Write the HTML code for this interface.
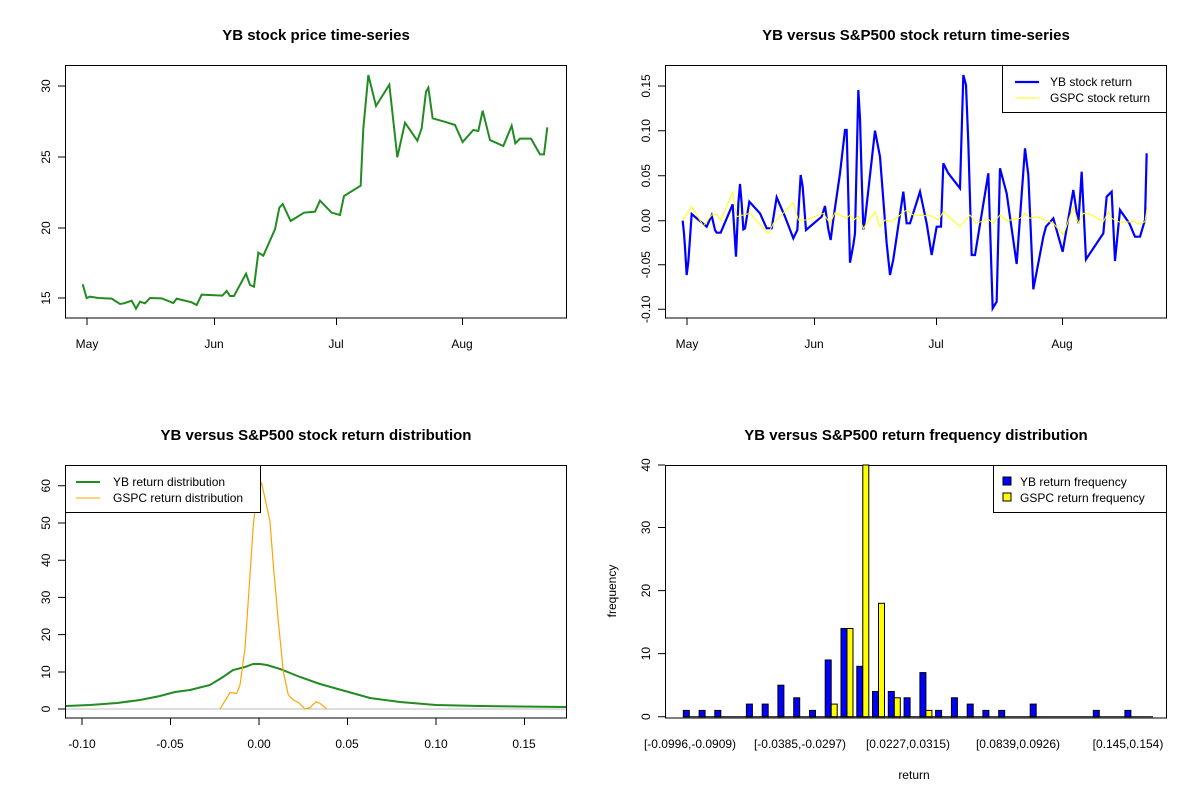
<!DOCTYPE html>
<html><head><meta charset="utf-8"><style>body{margin:0;background:#fff}svg{display:block;font-family:"Liberation Sans",Arial,sans-serif}</style></head><body>
<svg width="1200" height="800" viewBox="0 0 1200 800" xmlns="http://www.w3.org/2000/svg">
<rect width="1200" height="800" fill="#fff"/>
<g font-size="15" font-weight="bold" text-anchor="middle">
<text x="316" y="40">YB stock price time-series</text>
<text x="916" y="40">YB versus S&amp;P500 stock return time-series</text>
<text x="316" y="440">YB versus S&amp;P500 stock return distribution</text>
<text x="916" y="440">YB versus S&amp;P500 return frequency distribution</text>
</g>
<!-- Plot 1 -->
<rect x="65.5" y="65.5" width="501" height="252.5" fill="none" stroke="#000"/>
<g stroke="#000" fill="none"><path d="M87,318v7M214.5,318v7M336.5,318v7M462.5,318v7M65,86h-7M65,157h-7M65,228h-7M65,298h-7"/></g>
<g font-size="12" text-anchor="middle"><text x="87" y="348">May</text><text x="214" y="348">Jun</text><text x="336" y="348">Jul</text><text x="462" y="348">Aug</text>
<text transform="translate(50,86) rotate(-90)">30</text><text transform="translate(50,157) rotate(-90)">25</text><text transform="translate(50,228) rotate(-90)">20</text><text transform="translate(50,298) rotate(-90)">15</text></g>
<g transform="translate(60,60) scale(0.33333)"><polyline fill="none" stroke="#228B22" stroke-width="2" vector-effect="non-scaling-stroke" points="68,673 80,714 90,710 115,714 155,716 180,732 192,730 215,722 228,746 240,725 255,730 270,714 305,715 340,729 350,716 395,727 410,735 425,704 487,707 500,693 510,708 522,708 558,641 570,675 582,680 595,578 610,587 645,508 658,443 668,432 692,483 732,458 765,455 780,422 815,458 840,465 852,408 902,377 910,205 925,45 948,138 988,74 1012,292 1035,188 1072,242 1085,205 1098,95 1105,83 1118,175 1160,187 1185,195 1208,246 1240,210 1255,213 1268,152 1290,240 1330,258 1355,197 1366,250 1380,236 1413,236 1440,283 1452,283 1462,202"/></g>
<!-- Plot 2 -->
<rect x="665.5" y="65.5" width="501" height="252.5" fill="none" stroke="#000"/>
<g stroke="#000" fill="none"><path d="M687,318v7M814.5,318v7M936.5,318v7M1062.5,318v7M665,86h-7M665,130.7h-7M665,175.7h-7M665,220.7h-7M665,264.7h-7M665,309.3h-7"/></g>
<g font-size="12" text-anchor="middle"><text x="687" y="348">May</text><text x="814" y="348">Jun</text><text x="936" y="348">Jul</text><text x="1062" y="348">Aug</text>
<text transform="translate(650,86) rotate(-90)">0.15</text><text transform="translate(650,130.7) rotate(-90)">0.10</text><text transform="translate(650,175.7) rotate(-90)">0.05</text><text transform="translate(650,220.7) rotate(-90)">0.00</text><text transform="translate(650,264.7) rotate(-90)">-0.05</text><text transform="translate(650,309.3) rotate(-90)">-0.10</text></g>
<g transform="translate(660,60) scale(0.33333)">
<polyline fill="none" stroke="#0000FF" stroke-width="2.2" vector-effect="non-scaling-stroke" points="68,482 72,520 75,562 80,645 85,605 90,535 95,462 140,500 155,466 165,510 170,518 182,518 218,433 228,590 235,430 240,372 245,430 250,508 255,505 268,425 300,460 320,505 335,505 350,412 375,470 400,535 412,510 422,345 428,380 438,510 485,470 495,438 505,508 512,540 520,478 540,340 555,210 560,210 570,608 580,555 585,520 595,90 600,175 605,350 610,508 615,480 645,212 660,290 680,550 690,645 700,598 730,395 740,490 750,490 780,395 800,490 815,585 830,500 843,500 850,310 865,340 900,385 910,45 918,75 925,250 935,585 945,585 985,340 998,745 1010,725 1020,325 1040,400 1070,612 1095,265 1105,345 1120,688 1150,530 1158,500 1180,475 1208,575 1240,390 1255,490 1265,335 1278,598 1330,520 1340,410 1355,395 1365,603 1380,450 1408,490 1425,530 1440,530 1455,480 1460,280"/>
<polyline fill="none" stroke="#FFFF00" stroke-width="1" vector-effect="non-scaling-stroke" points="68,482 95,440 130,498 155,465 170,462 182,482 218,395 230,470 270,460 325,520 340,490 400,428 415,480 438,480 490,460 510,490 525,458 560,475 570,465 582,480 595,468 610,505 645,455 660,500 675,480 695,485 740,450 760,465 815,468 835,480 850,455 900,500 930,465 948,490 985,478 1000,490 1020,465 1040,482 1080,475 1095,460 1110,475 1130,470 1180,490 1210,525 1240,440 1255,490 1270,460 1290,462 1330,485 1345,455 1355,475 1380,487 1420,485 1440,493 1455,485 1462,440"/></g>
<rect x="1002.5" y="65.5" width="164" height="47" fill="#fff" stroke="#000"/>
<line x1="1015" y1="82" x2="1039" y2="82" stroke="#0000FF" stroke-width="2.2"/>
<line x1="1015" y1="98" x2="1039" y2="98" stroke="#FFFF00" stroke-width="1"/>
<g font-size="12"><text x="1050" y="86">YB stock return</text><text x="1050" y="102">GSPC stock return</text></g>
<!-- Plot 3 -->
<rect x="65.5" y="465.5" width="501" height="252.5" fill="none" stroke="#000"/>
<g stroke="#000" fill="none"><path d="M82,718v7M170.5,718v7M259,718v7M347.5,718v7M436,718v7M524.5,718v7M65,709h-7M65,672h-7M65,634.6h-7M65,597.4h-7M65,560.2h-7M65,523h-7M65,485.8h-7"/></g>
<g font-size="12" text-anchor="middle"><text x="82" y="748">-0.10</text><text x="170" y="748">-0.05</text><text x="259" y="748">0.00</text><text x="347" y="748">0.05</text><text x="436" y="748">0.10</text><text x="524" y="748">0.15</text>
<text transform="translate(50,709) rotate(-90)">0</text><text transform="translate(50,672) rotate(-90)">10</text><text transform="translate(50,634.6) rotate(-90)">20</text><text transform="translate(50,597.4) rotate(-90)">30</text><text transform="translate(50,560.2) rotate(-90)">40</text><text transform="translate(50,523) rotate(-90)">50</text><text transform="translate(50,485.8) rotate(-90)">60</text></g>
<line x1="66" y1="709" x2="566" y2="709" stroke="#bebebe"/>
<polyline fill="none" stroke="#228B22" stroke-width="2" points="66,706 90,705 117,703 140,700 160,696 175,692 190,690 210,685 223,677 233,670 245,667 253,664 260,664 267,665 280,669 300,677 320,684 345,691 370,698 400,702 436,705 480,706 566,707"/>
<g transform="translate(190,465) scale(0.33333)"><polyline fill="none" stroke="#FFA500" stroke-width="1.2" vector-effect="non-scaling-stroke" points="90,732 120,683 140,685 150,660 165,550 180,330 190,180 200,90 215,55 225,100 240,170 250,300 265,470 280,620 295,690 310,705 325,712 345,732 360,728 378,710 390,715 410,732"/></g>
<rect x="65.5" y="465.5" width="195" height="47" fill="#fff" stroke="#000"/>
<line x1="76" y1="482" x2="100" y2="482" stroke="#228B22" stroke-width="2"/>
<line x1="76" y1="498" x2="100" y2="498" stroke="#FFA500" stroke-width="1"/>
<g font-size="12"><text x="113" y="486">YB return distribution</text><text x="113" y="502">GSPC return distribution</text></g>
<!-- Plot 4 -->
<rect x="665.5" y="465.5" width="501" height="252.5" fill="none" stroke="#000"/>
<g stroke="#000" fill="none"><path d="M665,716.7h-7M665,653.6h-7M665,590.6h-7M665,527.5h-7M665,465h-7"/></g>
<g font-size="12" text-anchor="middle"><text transform="translate(650,716.7) rotate(-90)">0</text><text transform="translate(650,653.6) rotate(-90)">10</text><text transform="translate(650,590.6) rotate(-90)">20</text><text transform="translate(650,527.5) rotate(-90)">30</text><text transform="translate(650,465) rotate(-90)">40</text>
<text x="690" y="748">[-0.0996,-0.0909)</text><text x="800" y="748">[-0.0385,-0.0297)</text><text x="908" y="748">[0.0227,0.0315)</text><text x="1018" y="748">[0.0839,0.0926)</text><text x="1128" y="748">[0.145,0.154)</text>
<text x="914" y="779">return</text><text transform="translate(616,591) rotate(-90)">frequency</text></g>
<g stroke="#000" stroke-width="1">
<line x1="683" y1="716.7" x2="1153" y2="716.7"/>
<g fill="#0000FF">
<rect x="683.3" y="710.4" width="6" height="6.3"/>
<rect x="699.1" y="710.4" width="6" height="6.3"/>
<rect x="714.8" y="710.4" width="6" height="6.3"/>
<rect x="746.4" y="704.1" width="6" height="12.6"/>
<rect x="762.2" y="704.1" width="6" height="12.6"/>
<rect x="777.9" y="685.2" width="6" height="31.5"/>
<rect x="793.7" y="697.8" width="6" height="18.9"/>
<rect x="809.5" y="710.4" width="6" height="6.3"/>
<rect x="825.2" y="660" width="6" height="56.7"/>
<rect x="841.0" y="628.5" width="6" height="88.2"/>
<rect x="856.8" y="666.3" width="6" height="50.4"/>
<rect x="872.5" y="691.5" width="6" height="25.2"/>
<rect x="888.3" y="691.5" width="6" height="25.2"/>
<rect x="904.1" y="697.8" width="6" height="18.9"/>
<rect x="919.9" y="672.6" width="6" height="44.1"/>
<rect x="935.6" y="710.4" width="6" height="6.3"/>
<rect x="951.4" y="697.8" width="6" height="18.9"/>
<rect x="967.2" y="704.1" width="6" height="12.6"/>
<rect x="982.9" y="710.4" width="6" height="6.3"/>
<rect x="998.7" y="710.4" width="6" height="6.3"/>
<rect x="1030.2" y="704.1" width="6" height="12.6"/>
<rect x="1093.3" y="710.4" width="6" height="6.3"/>
<rect x="1124.9" y="710.4" width="6" height="6.3"/>
</g>
<g fill="#FFFF00">
<rect x="831.2" y="704.1" width="6" height="12.6"/>
<rect x="847.0" y="628.5" width="6" height="88.2"/>
<rect x="862.8" y="465" width="6" height="251.7"/>
<rect x="878.5" y="603.3" width="6" height="113.4"/>
<rect x="894.3" y="697.8" width="6" height="18.9"/>
<rect x="925.9" y="710.4" width="6" height="6.3"/>
</g>
</g>
<rect x="993.5" y="465.5" width="173" height="47" fill="#fff" stroke="#000"/>
<rect x="1003" y="477" width="8" height="8" fill="#0000FF" stroke="#000"/>
<rect x="1003" y="493" width="8" height="8" fill="#FFFF00" stroke="#000"/>
<g font-size="12"><text x="1020" y="486">YB return frequency</text><text x="1020" y="502">GSPC return frequency</text></g>
</svg>
</body></html>
